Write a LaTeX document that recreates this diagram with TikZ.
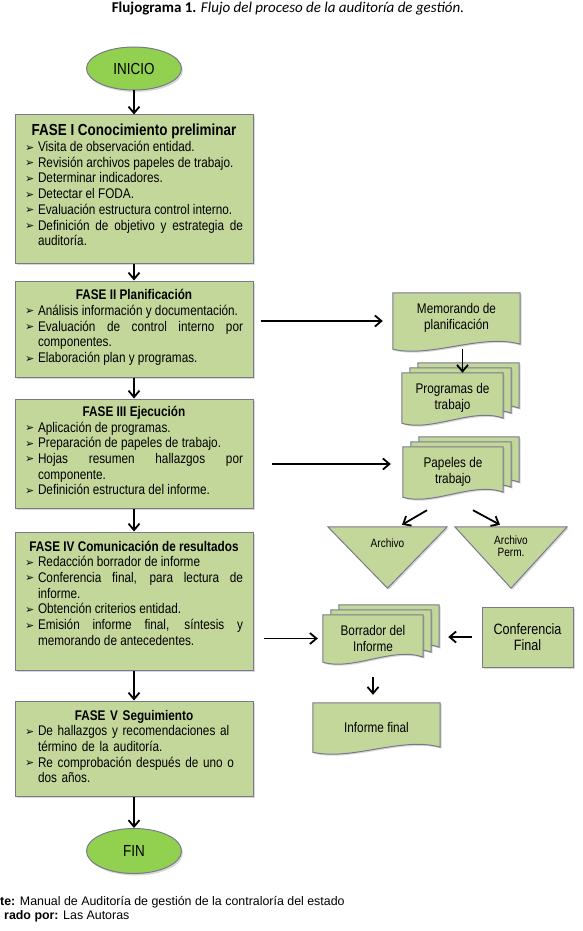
\documentclass[tikz,border=0pt]{standalone}
\usepackage{fontspec}
\setmainfont{Liberation Sans}
\newfontfamily\narrowfont[FakeStretch=0.84]{Liberation Sans}
\newfontfamily\capfont{Carlito}
\newfontfamily\symfont{DejaVu Sans}
\usetikzlibrary{calc,shapes.geometric,arrows.meta,shadows,backgrounds}
\definecolor{fasefill}{RGB}{196,215,155}
\definecolor{fasedraw}{RGB}{120,122,140}
\definecolor{endfill}{RGB}{146,208,80}
\newcommand{\bul}{\raisebox{0.5pt}{\symfont\fontsize{11}{11}\selectfont ➢}}
\newcommand{\fitem}[1]{\par\noindent\hangindent=13pt\hangafter=1\makebox[13pt][l]{\bul}#1}
\newcommand{\ftitle}[2][14]{\noindent\makebox[\hsize]{\fontsize{#1}{15.7}\selectfont\bfseries #2}}
\newcommand{\lift}[1]{\rule[-#1]{0pt}{#1}}
% hoja con borde inferior ondulado (documento)
\newcommand{\docsheet}[3]{%
  \draw[sheet] ($(#1.north west)+(#2,#3)$) -- ($(#1.north east)+(#2,#3)$)
    -- ($(#1.south east)+(#2,#3+5pt)$)
    .. controls ($(#1.south east)!0.3!(#1.south west)+(#2,#3+16pt)$)
    and ($(#1.south west)!0.3!(#1.south east)+(#2,#3-9pt)$)
    .. ($(#1.south west)+(#2,#3)$) -- cycle;}
\newcommand{\docstack}[1]{\docsheet{#1}{16pt}{10pt}\docsheet{#1}{8pt}{5pt}\docsheet{#1}{0pt}{0pt}}

\begin{document}
\begin{tikzpicture}[x=1pt,y=-1pt,
	txt/.style={font=\narrowfont\fontsize{14}{15.7}\selectfont},
	fase/.style={txt, rectangle, draw=fasedraw, fill=fasefill, line width=1pt, text width=218pt, inner xsep=10pt, inner ysep=0pt, align=justify, drop shadow={shadow xshift=1.5pt, shadow yshift=-1.5pt, opacity=0.3}},
	term/.style={ellipse, draw=fasedraw, fill=endfill, line width=1pt, minimum width=95, minimum height=43, inner sep=0pt, font=\narrowfont\fontsize{16}{16}\selectfont, drop shadow={shadow xshift=1.5pt, shadow yshift=-2pt, opacity=0.3}},
	doc/.style={txt, inner sep=0pt, align=center},
	sheet/.style={fill=fasefill, draw=fasedraw, line width=1pt, drop shadow={shadow xshift=1.5pt, shadow yshift=-1.5pt, opacity=0.3}},
	arr/.style={-{Straight Barb[length=6.5pt,width=11pt]}, line width=1.8pt},
	foot/.style={font=\fontsize{12.4}{14}\selectfont, inner sep=0pt}]
	\useasboundingbox (0,0) rectangle (583,931);

	\node[anchor=base, inner sep=0pt] (tit) at (288,13) {\capfont\fontsize{15}{17}\selectfont\textbf{Flujograma 1.} \textit{Flujo del proceso de la auditoría de gestión.}};

	% columna de fases
	\node[term] (ini) at (134,68.5) {INICIO};
	\node[fase, minimum height=148] (f1) at (134,189) {\ftitle[16]{FASE I Conocimiento preliminar}
		\fitem{Visita de observación entidad.}
		\fitem{Revisión archivos papeles de trabajo.}
		\fitem{Determinar indicadores.}
		\fitem{Detectar el FODA.}
		\fitem{Evaluación estructura control interno.}
		\fitem{Definición de objetivo y estrategia de\linebreak auditoría.\lift{8pt}}\par};
	\node[fase, minimum height=96] (f2) at (134,329) {\ftitle{FASE II Planificación}
		\fitem{Análisis información y documentación.}
		\fitem{Evaluación de control interno por\linebreak componentes.}
		\fitem{Elaboración plan y programas.\lift{6pt}}\par};
	\node[fase, minimum height=109] (f3) at (134,453.5) {\ftitle{FASE III Ejecución}
		\fitem{Aplicación de programas.}
		\fitem{Preparación de papeles de trabajo.}
		\fitem{Hojas resumen hallazgos por\linebreak componente.}
		\fitem{Definición estructura del informe.\lift{6pt}}\par};
	\node[fase, minimum height=138] (f4) at (134,601) {\ftitle{FASE IV Comunicación de resultados}
		\fitem{Redacción borrador de informe}
		\fitem{Conferencia final, para lectura de\linebreak informe.}
		\fitem{Obtención criterios entidad.}
		\fitem{Emisión informe final, síntesis y\linebreak memorando de antecedentes.\lift{16pt}}\par};
	\node[fase, align=left, minimum height=95] (f5) at (134,748.5) {\ftitle{FASE V Seguimiento}
		\fitem{De hallazgos y recomendaciones al\newline término de la auditoría.}
		\fitem{Re comprobación después de uno o\newline dos años.\lift{4pt}}\par};
	\node[term, minimum height=45] (fin) at (134,851) {FIN};

	\path[arr]
	(ini) edge (f1)
	(f1) edge (f2)
	(f2) edge (f3)
	(f3) edge (f4)
	(f4) edge (f5)
	(f5) edge (fin);

	% documentos
	\node[doc, minimum width=127, minimum height=56] (memo) at (456.5,321) {Memorando de\\planificación\lift{9pt}};
	\node[doc, minimum width=101, minimum height=50] (prog) at (452.5,398) {Programas de\\trabajo};
	\node[doc, minimum width=100, minimum height=50] (pap) at (453,472) {Papeles de\\trabajo};
	\node[doc, minimum width=119, minimum height=61, font=\narrowfont\fontsize{12}{12}\selectfont] (arch) at (387.5,557.5) {Archivo\lift{29pt}};
	\node[doc, minimum width=112, minimum height=61, font=\narrowfont\fontsize{12}{12}\selectfont] (perm) at (511,557.5) {Archivo\\Perm.\lift{23pt}};
	\node[doc, minimum width=100, minimum height=47] (borr) at (373,638.5) {Borrador del\\Informe};
	\node[doc, sheet, minimum width=91, minimum height=60, font=\narrowfont\fontsize{15}{15.7}\selectfont] (conf) at (527.5,637) {Conferencia\\Final};
	\node[doc, minimum width=127, minimum height=49] (inf) at (376.5,727.5) {Informe final};

	\coordinate (papin) at ([yshift=8pt]pap.west);
	\coordinate (progin) at ([xshift=10pt]prog.north);

	\draw[arr, shorten <=7pt, shorten >=10pt] (f2.east |- memo.west) -- (memo.west);
	\draw[arr] (memo.south -| progin) -- (progin);
	\draw[arr, shorten <=18pt, shorten >=12pt] (f3.east |- papin) -- (papin);
	\draw[arr] ([xshift=-26pt,yshift=-13pt]pap.south) -- ([xshift=14.5pt,yshift=2pt]arch.north);
	\draw[arr] ([xshift=20pt,yshift=-13pt]pap.south) -- ([xshift=-11pt,yshift=2pt]perm.north);
	\draw[arr, shorten <=10pt, shorten >=5pt] (f4.east |- borr.west) -- (borr.west);
	\draw[arr, shorten <=10pt, shorten >=25pt] (conf.west) -- (conf.west -| borr.east);
	\draw[arr, shorten <=15pt, shorten >=8pt] (borr.south) -- (borr.south |- inf.north);

	\node[foot, anchor=base west] (src) at (0,905) {\textbf{te:} Manual de Auditoría de gestión de la contraloría del estado};
	\node[foot, anchor=base west] (aut) at (4,919) {\textbf{rado por:} Las Autoras};

	\begin{scope}[on background layer]
		\fill[white] (0,0) rectangle (583,931);
		\docsheet{memo}{0pt}{0pt}
		\docstack{prog}
		\docstack{pap}
		\docstack{borr}
		\docsheet{inf}{0pt}{0pt}
		\draw[sheet] (arch.north west) -- (arch.north east) -- (arch.south) -- cycle;
		\draw[sheet] (perm.north west) -- (perm.north east) -- (perm.south) -- cycle;
	\end{scope}
\end{tikzpicture}
\end{document}
